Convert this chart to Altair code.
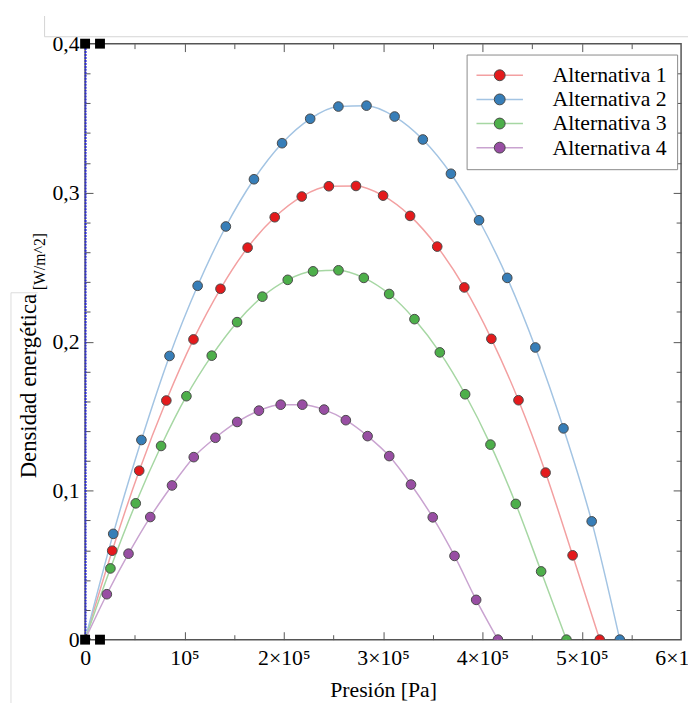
import altair as alt
import pandas as pd

# ---------------- data ----------------
series_names = ["Alternativa 1", "Alternativa 2", "Alternativa 3", "Alternativa 4"]

x_alt1 = [0, 27300, 54500, 81800, 109100, 136300, 163600, 190900, 218100, 245400,
          272700, 300000, 327200, 354500, 381800, 409000, 436300, 463600, 490800, 518100]
y_alt1 = [0, 0.0597, 0.1134, 0.1605, 0.2015, 0.2355, 0.2631, 0.2835, 0.2974, 0.3043,
          0.3045, 0.2980, 0.2844, 0.2638, 0.2364, 0.2019, 0.1607, 0.1121, 0.0566, 0]

x_alt2 = [0, 28300, 56700, 85000, 113300, 141700, 170000, 198300, 226600, 255000,
          283300, 311600, 340000, 368300, 396600, 425000, 453300, 481600, 510000, 538300]
y_alt2 = [0, 0.0710, 0.1340, 0.1904, 0.2375, 0.2773, 0.3090, 0.3332, 0.3496, 0.3578,
          0.3584, 0.3511, 0.3357, 0.3127, 0.2815, 0.2428, 0.1961, 0.1418, 0.0794, 0]

x_alt3 = [0, 25500, 51000, 76500, 102000, 127500, 153000, 178500, 204000, 229500,
          255100, 280600, 306100, 331600, 357100, 382600, 408100, 433600, 459100, 484600]
y_alt3 = [0, 0.0478, 0.0915, 0.1300, 0.1634, 0.1906, 0.2131, 0.2302, 0.2415, 0.2472,
          0.2479, 0.2428, 0.2320, 0.2151, 0.1928, 0.1647, 0.1309, 0.0911, 0.0458, 0]

x_alt4 = [0, 21900, 43700, 65600, 87500, 109400, 131200, 153100, 175000, 196900,
          218700, 240600, 262500, 284400, 306200, 328100, 350000, 371900, 393700, 415600]
y_alt4 = [0, 0.0305, 0.0577, 0.0823, 0.1035, 0.1225, 0.1355, 0.1461, 0.1537, 0.1577,
          0.1577, 0.1544, 0.1473, 0.1366, 0.1232, 0.1041, 0.0821, 0.0562, 0.0267, 0]

point_colors = ["#e41a1c", "#377eb8", "#4daf4a", "#984ea3"]
line_colors = ["#f3a0a1", "#a3c4e3", "#a6d7a3", "#c9a3d0"]

x_major_ticks = [0, 100000, 200000, 300000, 400000, 500000, 600000]
x_inner_major = [100000, 200000, 300000, 400000, 500000]
x_minor_ticks = [50000, 150000, 250000, 350000, 450000, 550000]
y_major_ticks = [0, 0.1, 0.2, 0.3, 0.4]
y_inner_major = [0.1, 0.2, 0.3]
y_minor_ticks = [0.02, 0.04, 0.06, 0.08, 0.12, 0.14, 0.16, 0.18,
                 0.22, 0.24, 0.26, 0.28, 0.32, 0.34, 0.36, 0.38]

marker_x = [0, 15000, 0, 15000]
marker_y = [0, 0, 0.4, 0.4]

x_title = "Presión [Pa]"
y_title = "Densidad energética"
y_unit = "[W/m^2]"

# ---------------- tables ----------------
rows = []
for name, xs, ys in zip(series_names, [x_alt1, x_alt2, x_alt3, x_alt4],
                        [y_alt1, y_alt2, y_alt3, y_alt4]):
    for xv, yv in zip(xs, ys):
        rows.append({"serie": name, "x": xv, "y": yv})
df = pd.DataFrame(rows)
markers = pd.DataFrame({"x": marker_x, "y": marker_y})
one = pd.DataFrame({"k": [0]})

FONT = "Liberation Serif"
FS = 22
W = 603
H = 603

xscale = alt.Scale(domain=[0, 600000], nice=False, zero=False)
yscale = alt.Scale(domain=[0, 0.4], nice=False, zero=False)

x_label_expr = ("datum.value == 0 ? '0' : (datum.value == 100000 ? '10\u2075' : "
                "format(datum.value / 100000, 'd') + '\u00d710\u2075')")
y_label_expr = "replace(format(datum.value, '.1~f'), '.', ',')"

main_x_axis = alt.Axis(orient="bottom", values=x_major_ticks, labelExpr=x_label_expr,
                       ticks=False, tickSize=0, domain=False, grid=False,
                       labelFont=FONT, labelFontSize=FS, labelColor="black",
                       labelPadding=8, labelFlush=False, labelOverlap=False,
                       title=x_title, titleFont=FONT, titleFontSize=FS,
                       titleFontWeight="normal", titleColor="black", titlePadding=12)
main_y_axis = alt.Axis(orient="left", values=y_major_ticks, labelExpr=y_label_expr,
                       ticks=False, tickSize=0, domain=True, domainColor="#2b2bd6",
                       domainWidth=2, domainDash=[2, 1], grid=False,
                       labelFont=FONT, labelFontSize=FS, labelColor="black",
                       labelPadding=6, labelFlush=False, labelOverlap=False,
                       title=y_title, titleFont=FONT, titleFontSize=23,
                       titleFontWeight="normal", titleColor="black", titlePadding=12,
                       titleY=346)
unit_axis = alt.Axis(orient="left", labels=False, ticks=False, domain=False, grid=False,
                     title=y_unit, titleFont=FONT, titleFontSize=16,
                     titleFontWeight="normal", titleColor="black",
                     titleX=-38, titleY=220)

# legend symbols: a line (first legend) and a circle drawn over it (second legend)
line_path = "M-1.158,0H3.79"
circle_path = "M0.737,0A0.579,0.579,0,1,1,1.895,0A0.579,0.579,0,1,1,0.737,0Z"

legend_common = dict(orient="none", legendX=386, legendY=11, direction="vertical",
                     title=None, symbolSize=361, labelFont=FONT, labelFontSize=FS,
                     labelColor="black", labelOffset=55, padding=10, rowPadding=2.4,
                     labelLimit=400)
legend_lines = alt.Legend(symbolType=line_path, symbolStrokeWidth=1.5,
                          strokeColor="#8a8a8a", fillColor="white", **legend_common)
legend_points = alt.Legend(symbolType=circle_path, symbolStrokeWidth=1,
                           labelOpacity=0, **legend_common)

lines = alt.Chart(df).mark_line(strokeWidth=1.5, interpolate="monotone", clip=True).encode(
    x=alt.X("x:Q", scale=xscale, axis=main_x_axis),
    y=alt.Y("y:Q", scale=yscale, axis=main_y_axis),
    color=alt.Color("serie:N", scale=alt.Scale(domain=series_names, range=line_colors),
                    legend=legend_lines),
)

points = alt.Chart(df).mark_point(filled=True, size=95, stroke="#4a4a4a", strokeWidth=1,
                                  opacity=1, clip=True).encode(
    x=alt.X("x:Q", scale=xscale, axis=None),
    y=alt.Y("y:Q", scale=yscale, axis=None),
    fill=alt.Fill("serie:N", scale=alt.Scale(domain=series_names, range=point_colors),
                  legend=legend_points),
)

squares = alt.Chart(markers).mark_square(size=100, color="black", filled=True,
                                         opacity=1).encode(
    x=alt.X("x:Q", scale=xscale, axis=None),
    y=alt.Y("y:Q", scale=yscale, axis=None),
)


def tick_axis(orient, values, size):
    return alt.Axis(orient=orient, offset=-W, values=values, ticks=True, tickSize=size,
                    tickColor="#555555", tickWidth=1, labels=False, domain=False,
                    grid=False, title=None)


def tick_layer(xa, ya):
    return alt.Chart(markers).mark_point(opacity=0).encode(
        x=alt.X("x:Q", scale=xscale, axis=xa),
        y=alt.Y("y:Q", scale=yscale, axis=ya),
    )


t1 = tick_layer(tick_axis("top", x_inner_major, 8), tick_axis("right", y_inner_major, 8))
t2 = tick_layer(tick_axis("top", x_minor_ticks, 5), tick_axis("right", y_minor_ticks, 5))
t3 = tick_layer(tick_axis("bottom", x_inner_major, 8), tick_axis("left", y_inner_major, 8))
t4 = tick_layer(tick_axis("bottom", x_minor_ticks, 5), tick_axis("left", y_minor_ticks, 5))
t5 = tick_layer(None, unit_axis)

# faint frame lines of the original screenshot
art1 = alt.Chart(one).mark_rule(color="#d4d4d4", strokeWidth=1).encode(
    x=alt.value(-41), x2=alt.value(620), y=alt.value(-7))
art2 = alt.Chart(one).mark_rule(color="#d4d4d4", strokeWidth=1).encode(
    x=alt.value(-41), y=alt.value(-28), y2=alt.value(-7))
art3 = alt.Chart(one).mark_rule(color="#dddddd", strokeWidth=1).encode(
    x=alt.value(-75), y=alt.value(252), y2=alt.value(680))
art4 = alt.Chart(one).mark_rule(color="#dddddd", strokeWidth=1).encode(
    x=alt.value(-75), x2=alt.value(-48), y=alt.value(252))

chart = alt.layer(
    art1, art2, art3, art4, t1, t2, t3, t4, t5, lines, points, squares
).resolve_axis(
    x="independent", y="independent"
).resolve_legend(
    color="independent", fill="independent"
).properties(
    width=W, height=H,
    padding={"left": 78, "top": 32, "right": 7, "bottom": 60},
    autosize=alt.AutoSizeParams(type="none"),
    background="white",
).configure_view(
    stroke="#555555", strokeWidth=1.5
)

chart.save("out.html", embed_options={"renderer": "svg", "actions": False})
